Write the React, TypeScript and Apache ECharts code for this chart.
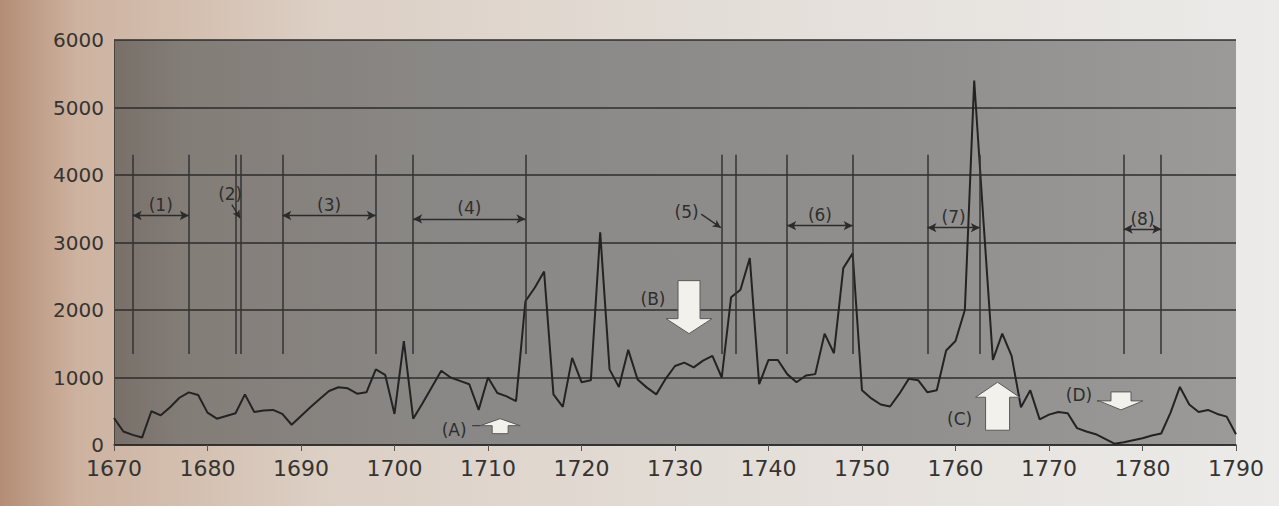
import React, { useEffect, useRef } from "react";
import * as echarts from "echarts";

// Annual values, 1670 .. 1790
const startYear = 1670;
const values = [
  400, 200, 150, 110, 500, 440, 560, 700, 780, 740, // 1670-1679
  480, 390, 430, 470, 750, 490, 510, 520, 460, 300, // 1680-1689
  430, 560, 680, 800, 855, 840, 760, 780, 1120, 1040, // 1690-1699
  460, 1540, 390, 620, 860, 1100, 1000, 950, 900, 520, // 1700-1709
  1000, 770, 720, 650, 2130, 2330, 2570, 750, 565, 1290, // 1710-1719
  930, 960, 3150, 1120, 860, 1410, 970, 850, 750, 980, // 1720-1729
  1170, 1220, 1150, 1250, 1320, 1000, 2190, 2300, 2770, 900, // 1730-1739
  1260, 1260, 1050, 930, 1030, 1050, 1650, 1360, 2620, 2840, // 1740-1749
  810, 690, 600, 570, 760, 980, 960, 780, 810, 1400, // 1750-1759
  1540, 2000, 5400, 3300, 1260, 1650, 1320, 560, 810, 380, // 1760-1769
  450, 490, 470, 250, 200, 160, 90, 20, 40, 70, // 1770-1779
  100, 140, 170, 480, 860, 600, 490, 520, 460, 420, // 1780-1789
  160, // 1790
];

const yTicks = [0, 1000, 2000, 3000, 4000, 5000, 6000];
const xTicks = [1670, 1680, 1690, 1700, 1710, 1720, 1730, 1740, 1750, 1760, 1770, 1780, 1790];

// Vertical period markers (years)
const warLines = [1672, 1678, 1683, 1683.6, 1688, 1698, 1702, 1714, 1735, 1736.5, 1742, 1749, 1757, 1762.6, 1778, 1782];
const warLineFrom = 1350;
const warLineTo = 4300;

// Double-headed span arrows
const spanLabels = ["(1)", "(3)", "(4)", "(6)", "(7)", "(8)"];
const spanFrom = [1672, 1688, 1702, 1742, 1757, 1778];
const spanTo = [1678, 1698, 1714, 1749, 1762.6, 1782];
const spanAt = [3400, 3400, 3350, 3250, 3220, 3200];

// Pointer labels
const pointerLabels = ["(2)", "(5)"];
const pointerFrom = [[1682.6, 3560], [1732.8, 3420]];
const pointerTo = [[1683.5, 3360], [1734.9, 3220]];

// Block arrows (tip position in data units)
const blockLabels = ["(A)", "(B)", "(C)", "(D)"];
const blockTip = [[1711.3, 390], [1731.5, 1650], [1764.5, 930], [1777.7, 520]];
const blockDir = ["up", "down", "up", "down"];

export default function App() {
  const ref = useRef<HTMLDivElement>(null);

  useEffect(() => {
    if (!ref.current) return;
    const chart = echarts.init(ref.current, null, { renderer: "svg" });
    const data = values.map((v, i) => [startYear + i, v]);
    const textColor = "#363432";
    const labelFont = { fontSize: 17, color: "#2e2e2e", fontFamily: "DejaVu Sans" };

    const markData: any[] = [];
    warLines.forEach((x) => {
      markData.push([
        { coord: [x, warLineFrom], symbol: "none" },
        { coord: [x, warLineTo], symbol: "none" },
      ]);
    });
    spanLabels.forEach((lab, i) => {
      markData.push([
        {
          coord: [spanFrom[i], spanAt[i]],
          symbol: "arrow",
          symbolSize: [7, 9],
          lineStyle: { width: 1.3, color: "#2b2b2b" },
          label: { show: true, formatter: lab, position: "insideMiddleTop", distance: 2, ...labelFont },
        },
        { coord: [spanTo[i], spanAt[i]], symbol: "arrow", symbolSize: [7, 9] },
      ]);
    });
    pointerLabels.forEach((lab, i) => {
      markData.push([
        {
          coord: pointerFrom[i],
          symbol: "none",
          lineStyle: { width: 1.3, color: "#2b2b2b" },
          label: { show: true, formatter: lab, position: "start", distance: 3, ...labelFont },
        },
        { coord: pointerTo[i], symbol: "arrow", symbolSize: [6, 8] },
      ]);
    });

    chart.setOption({
      animation: false,
      grid: {
        left: 114,
        right: 43,
        top: 40,
        bottom: 61,
        show: true,
        borderWidth: 0,
        backgroundColor: new echarts.graphic.LinearGradient(0, 0, 1, 0, [
          { offset: 0, color: "#786f68" },
          { offset: 0.06, color: "#837d77" },
          { offset: 0.3, color: "#8a8886" },
          { offset: 0.7, color: "#908f8d" },
          { offset: 1, color: "#9b9a98" },
        ]),
      },
      xAxis: {
        type: "value",
        min: xTicks[0],
        max: xTicks[xTicks.length - 1],
        interval: 10,
        axisLine: { show: true, lineStyle: { color: "#2b2b2b", width: 1.5 } },
        axisTick: { show: true, length: 6, lineStyle: { color: "#555", width: 1 } },
        axisLabel: {
          fontSize: 22,
          lineHeight: 22,
          color: textColor,
          fontFamily: "DejaVu Sans",
          margin: 12,
          formatter: (v: number) => String(v),
        },
        splitLine: { show: false },
      },
      yAxis: {
        type: "value",
        min: yTicks[0],
        max: yTicks[yTicks.length - 1],
        interval: 1000,
        axisLine: { show: true, lineStyle: { color: "#4a4440", width: 1 } },
        axisTick: { show: false },
        axisLabel: {
          fontSize: 20,
          lineHeight: 20,
          color: textColor,
          fontFamily: "DejaVu Sans",
          margin: 10,
          formatter: (v: number) => String(v),
        },
        splitLine: { show: true, lineStyle: { color: "#2c2c2c", width: 1.5 } },
      },
      series: [
        {
          type: "line",
          data,
          symbol: "none",
          lineStyle: { color: "#232323", width: 2 },
          z: 3,
          markLine: {
            silent: true,
            animation: false,
            symbol: ["none", "none"],
            lineStyle: { color: "#333", width: 1.5, type: "solid" },
            label: { show: false },
            data: markData,
          },
        },
      ],
    });

    // Block arrows, anchored to data coordinates
    const sizes = [
      { hw: 20, hh: 7, bw: 8, bl: 8, lx: -46, ly: 11, conn: true },
      { hw: 23, hh: 15, bw: 11, bl: 38, lx: -36, ly: -35, conn: false },
      { hw: 22, hh: 15, bw: 12, bl: 33, lx: -38, ly: 37, conn: false },
      { hw: 22, hh: 9, bw: 10, bl: 9, lx: -42, ly: -15, conn: true },
    ];
    const graphics: any[] = [];
    blockLabels.forEach((lab, i) => {
      const p = chart.convertToPixel({ gridIndex: 0 }, blockTip[i]) as number[];
      const s = sizes[i];
      const d = blockDir[i] === "up" ? 1 : -1;
      const [tx, ty] = p;
      const pts = [
        [tx, ty],
        [tx + s.hw, ty + d * s.hh],
        [tx + s.bw, ty + d * s.hh],
        [tx + s.bw, ty + d * (s.hh + s.bl)],
        [tx - s.bw, ty + d * (s.hh + s.bl)],
        [tx - s.bw, ty + d * s.hh],
        [tx - s.hw, ty + d * s.hh],
      ];
      if (s.conn) {
        graphics.push({
          type: "line",
          shape: { x1: tx + s.lx + 18, y1: ty + d * s.hh, x2: tx - s.hw, y2: ty + d * s.hh },
          style: { stroke: "#3a3a3a", lineWidth: 1.2 },
          z: 10,
        });
      }
      graphics.push({
        type: "polygon",
        shape: { points: pts },
        style: { fill: "#f3f1ec", stroke: "#5a5a5a", lineWidth: 1 },
        z: 10,
      });
      graphics.push({
        type: "text",
        x: tx + s.lx,
        y: ty + s.ly,
        style: {
          text: lab,
          fill: "#2e2e2e",
          font: "17px 'DejaVu Sans'",
          align: "center",
          verticalAlign: "middle",
        },
        z: 10,
      });
    });
    chart.setOption({ graphic: graphics });

    return () => chart.dispose();
  }, []);

  return (
    <div
      style={{
        position: "absolute",
        left: 0,
        top: 0,
        width: 1279,
        height: 506,
        background:
          "linear-gradient(90deg, #b48d75 0%, #cdb29f 6%, #dccfc4 25%, #e3ddd7 55%, #ecebe9 100%)",
      }}
    >
      <div ref={ref} style={{ width: 1279, height: 506 }} />
    </div>
  );
}
